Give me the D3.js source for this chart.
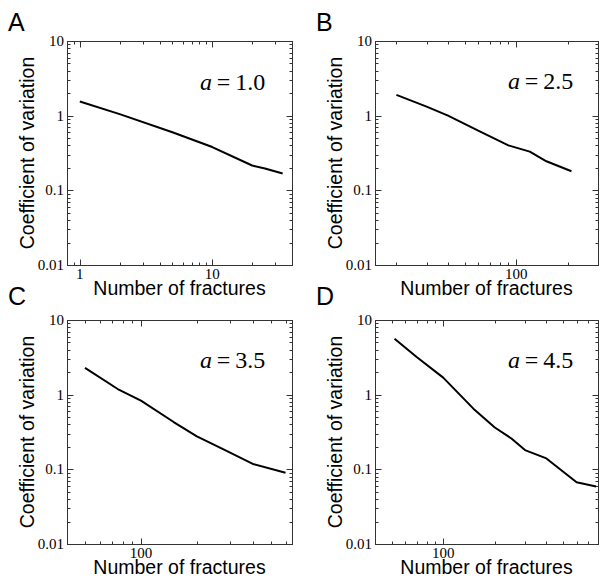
<!DOCTYPE html>
<html>
<head>
<meta charset="utf-8">
<script src="https://cdn.jsdelivr.net/npm/d3@7"></script>
<style>
  html, body { margin: 0; padding: 0; background: #fff; }
  svg { display: block; }
</style>
</head>
<body>
<svg id="chart" width="600" height="578"></svg>
<script>
// ---------------- DATA ----------------
const panelLetters = ["A", "B", "C", "D"];
const alphaLabels = ["1.0", "2.5", "3.5", "4.5"];
const yTickLabels = ["0.01", "0.1", "1", "10"];
const yDomain = [0.01, 10];

// Panel A
const nA  = [1, 2, 5, 10, 20, 25, 34];
const cvA = [1.55, 1.05, 0.60, 0.38, 0.215, 0.196, 0.168];
const xDomainA = [0.8, 40];
const xTickLabelsA = ["1", "10"];

// Panel B
const nB  = [20, 30, 40, 60, 90, 120, 150, 210];
const cvB = [1.9, 1.32, 1.0, 0.63, 0.40, 0.33, 0.245, 0.18];
const xDomainB = [15, 300];
const xTickLabelsB = ["100"];

// Panel C
const nC  = [50, 75, 100, 150, 200, 280, 400, 600];
const cvC = [2.28, 1.19, 0.83, 0.43, 0.277, 0.184, 0.118, 0.09];
const xDomainC = [40, 650];
const xTickLabelsC = ["100"];

// Panel D
const nD  = [52, 70, 100, 150, 200, 250, 300, 400, 600, 780];
const cvD = [5.6, 3.2, 1.69, 0.65, 0.363, 0.259, 0.181, 0.14, 0.067, 0.059];
const xDomainD = [40, 800];
const xTickLabelsD = ["100"];

const xTitle = "Number of fractures";
const yTitle = "Coefficient of variation";

// ---------------- LAYOUT ----------------
const layout = [
  { x0: 67,  x1: 292, y0: 41,  y1: 265, letterX: 8,   letterY: 31,  labDy: 49 },
  { x0: 375, x1: 598, y0: 41,  y1: 265, letterX: 316, letterY: 31,  labDy: 48 },
  { x0: 67,  x1: 292, y0: 320, y1: 544, letterX: 8,   letterY: 305, labDy: 48 },
  { x0: 375, x1: 598, y0: 320, y1: 544, letterX: 316, letterY: 305, labDy: 48 }
];

const panels = [
  { n: nA, cv: cvA, xd: xDomainA, xl: xTickLabelsA },
  { n: nB, cv: cvB, xd: xDomainB, xl: xTickLabelsB },
  { n: nC, cv: cvC, xd: xDomainC, xl: xTickLabelsC },
  { n: nD, cv: cvD, xd: xDomainD, xl: xTickLabelsD }
];

const svg = d3.select("#chart");
const serif = "'Liberation Serif', 'Times New Roman', serif";
const sans = "'Liberation Sans', Arial, sans-serif";
const axisColor = "#333";

function logTicks(domain) {
  const out = [];
  const e0 = Math.floor(Math.log10(domain[0]));
  const e1 = Math.ceil(Math.log10(domain[1]));
  for (let e = e0; e <= e1; e++) {
    for (let k = 1; k <= 9; k++) {
      const v = k * Math.pow(10, e);
      if (v >= domain[0] * 0.999 && v <= domain[1] * 1.001) out.push({ v, major: k === 1 });
    }
  }
  return out;
}

panels.forEach((p, i) => {
  const L = layout[i];
  const x = d3.scaleLog().domain(p.xd).range([L.x0, L.x1]);
  const y = d3.scaleLog().domain(yDomain).range([L.y1, L.y0]);
  const g = svg.append("g");

  // frame
  g.append("rect")
    .attr("x", L.x0 + 0.5).attr("y", L.y0 + 0.5)
    .attr("width", L.x1 - L.x0).attr("height", L.y1 - L.y0)
    .attr("fill", "none").attr("stroke", axisColor).attr("stroke-width", 1);

  // x ticks (bottom & top, inward)
  logTicks(p.xd).forEach(t => {
    const px = Math.round(x(t.v)) + 0.5;
    const len = t.major ? 6 : 3;
    if (px <= L.x0 + 1 || px >= L.x1 - 0.5) return;
    g.append("line").attr("x1", px).attr("x2", px)
      .attr("y1", L.y1 + 0.5).attr("y2", L.y1 + 0.5 - len)
      .attr("stroke", axisColor).attr("stroke-width", 1);
    g.append("line").attr("x1", px).attr("x2", px)
      .attr("y1", L.y0 + 0.5).attr("y2", L.y0 + 0.5 + len)
      .attr("stroke", axisColor).attr("stroke-width", 1);
  });

  // y ticks (left & right, inward)
  logTicks(yDomain).forEach(t => {
    const py = Math.round(y(t.v)) + 0.5;
    const len = t.major ? 6 : 3;
    if (py <= L.y0 + 1 || py >= L.y1) return;
    g.append("line").attr("x1", L.x0 + 0.5).attr("x2", L.x0 + 0.5 + len)
      .attr("y1", py).attr("y2", py)
      .attr("stroke", axisColor).attr("stroke-width", 1);
    g.append("line").attr("x1", L.x1 + 0.5).attr("x2", L.x1 + 0.5 - len)
      .attr("y1", py).attr("y2", py)
      .attr("stroke", axisColor).attr("stroke-width", 1);
  });

  // y tick labels
  yTickLabels.forEach(lbl => {
    g.append("text")
      .attr("x", L.x0 - 3).attr("y", y(+lbl))
      .attr("dy", "0.33em")
      .attr("text-anchor", "end")
      .attr("font-family", serif).attr("font-size", 15)
      .attr("fill", "#000")
      .text(lbl);
  });

  // x tick labels
  p.xl.forEach(lbl => {
    g.append("text")
      .attr("x", x(+lbl)).attr("y", L.y1 + 14)
      .attr("text-anchor", "middle")
      .attr("font-family", serif).attr("font-size", 15)
      .attr("fill", "#000")
      .text(lbl);
  });

  // x title
  g.append("text")
    .attr("x", (L.x0 + L.x1) / 2).attr("y", L.y1 + 30)
    .attr("text-anchor", "middle")
    .attr("font-family", sans).attr("font-size", 19.5)
    .attr("fill", "#000")
    .text(xTitle);

  // y title
  g.append("text")
    .attr("transform", `translate(${L.x0 - 33},${(L.y0 + L.y1) / 2}) rotate(-90)`)
    .attr("text-anchor", "middle")
    .attr("font-family", sans).attr("font-size", 19.5)
    .attr("fill", "#000")
    .text(yTitle);

  // panel letter
  g.append("text")
    .attr("x", L.letterX).attr("y", L.letterY)
    .attr("font-family", sans).attr("font-size", 25)
    .attr("fill", "#000")
    .text(panelLetters[i]);

  // alpha label
  const t = g.append("text")
    .attr("x", L.x0 + 133).attr("y", L.y0 + L.labDy)
    .attr("font-family", serif).attr("font-size", 24)
    .attr("fill", "#000");
  t.append("tspan").attr("font-style", "italic").text("a");
  t.append("tspan").text("\u2009=\u2009" + alphaLabels[i]);

  // line
  const line = d3.line()
    .x((d, j) => x(p.n[j]))
    .y(d => y(d));
  g.append("path")
    .datum(p.cv)
    .attr("d", line)
    .attr("fill", "none")
    .attr("stroke", "#000")
    .attr("stroke-width", 2)
    .attr("stroke-linejoin", "round");
});
</script>
</body>
</html>
